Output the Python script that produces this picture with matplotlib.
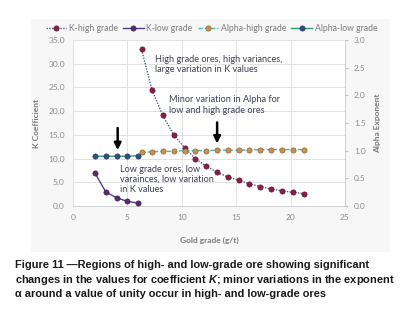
import matplotlib as mpl
mpl.use('Agg')
import matplotlib.pyplot as plt
from matplotlib.patches import Rectangle

plt.rcParams['font.family'] = ['Lato', 'DejaVu Sans']
plt.rcParams['mathtext.fontset'] = 'custom'
plt.rcParams['mathtext.it'] = 'Liberation Sans:italic:bold'
plt.rcParams['mathtext.rm'] = 'Liberation Sans:bold'

# data
grade_low = [2, 3, 4, 5, 6]
k_low = [7.0, 3.0, 1.7, 1.0, 0.6]
alpha_low = [0.90, 0.90, 0.90, 0.90, 0.91]

grade_high = [6.3, 7.25, 8.25, 9.25, 10.25, 11.25, 12.25, 13.25,
              14.25, 15.25, 16.2, 17.2, 18.2, 19.2, 20.2, 21.2]
k_high = [33.0, 24.5, 19.1, 15.0, 12.3, 10.0, 8.4, 7.1,
          6.1, 5.4, 4.7, 4.1, 3.6, 3.2, 2.9, 2.6]
alpha_high = [0.97, 0.98, 0.99, 0.99, 1.0, 1.0, 1.0, 1.01,
              1.01, 1.01, 1.01, 1.02, 1.02, 1.02, 1.02, 1.02]

xticks = [0, 5, 10, 15, 20, 25]
kticks = [0, 5, 10, 15, 20, 25, 30, 35]
aticks = [0, 0.5, 1.0, 1.5, 2.0, 2.5, 3.0]

tick_col = '#8c8c8c'
lab_col = '#7a7a7a'
txt_col = '#3b3f55'

fig = plt.figure(figsize=(4.13, 3.15), dpi=100)
fig.patches.append(Rectangle((0.075, 0.2), 0.87, 0.74, transform=fig.transFigure,
                             facecolor='#f7f7f7', edgecolor='none', zorder=-10))
ax = fig.add_axes([0.177, 0.346, 0.658, 0.527])
ax2 = ax.twinx()

ax.set_xlim(0, 25)
ax.set_ylim(0, 35)
ax2.set_ylim(0, 3)
ax.set_xticks(xticks)
ax.set_yticks(kticks)
ax2.set_yticks(aticks)
ax.set_yticklabels(['%.1f' % v for v in kticks])
ax2.set_yticklabels(['%.1f' % v for v in aticks])
ax.grid(True, color='#e2e2e2', lw=0.7)
ax.set_axisbelow(True)
for a in (ax, ax2):
    for s in a.spines.values():
        s.set_visible(False)
    a.tick_params(labelsize=6, colors=tick_col, length=0, pad=6)
ax2.spines['right'].set_visible(True)
ax2.spines['right'].set_color('#d0d0d0')
ax2.spines['right'].set_linewidth(0.7)
ax2.tick_params(axis='y', length=2.5, color='#c0c0c0', pad=4)
for side in ('bottom', 'left', 'top'):
    ax.spines[side].set_visible(True)
    ax.spines[side].set_color('#d0d0d0' if side == 'bottom' else '#e2e2e2')
    ax.spines[side].set_linewidth(0.7)

ax.set_xlabel('Gold grade (g/t)', fontsize=6, color=lab_col, fontweight='bold', labelpad=11)
ax.set_ylabel('K Coefficient', fontsize=6, color=lab_col, fontweight='bold', labelpad=6)
ax2.set_ylabel('Alpha Exponent', fontsize=6, color=lab_col, fontweight='bold', labelpad=6)

l1, = ax.plot(grade_high, k_high, ls=(0, (1, 1)), color='#4a5a9a', lw=1.0,
              marker='o', ms=3.8, mfc='#8b1e3f', mec='#5a1028', mew=0.4, zorder=5)
l2, = ax.plot(grade_low, k_low, ls='-', color='#4b3f8a', lw=1.0,
              marker='o', ms=3.8, mfc='#5b2a6e', mec='#3a1a4e', mew=0.4, zorder=5)
l3, = ax2.plot(grade_high, alpha_high, ls=(0, (3, 1.5)), color='#3cc0b0', lw=1.0,
               marker='o', ms=3.8, mfc='#c8914f', mec='#7a5a2a', mew=0.4, zorder=4)
l4, = ax2.plot(grade_low, alpha_low, ls='-', color='#2e9e7a', lw=1.0,
               marker='o', ms=3.8, mfc='#2f4f7f', mec='#1f2f4f', mew=0.4, zorder=4)

fig.legend([l1, l2, l3, l4], ['K-high grade', 'K-low grade', 'Alpha-high grade', 'Alpha-low grade'],
           loc='center', bbox_to_anchor=(0.512, 0.911), ncol=4, frameon=False,
           fontsize=6.2, labelcolor='#7a7a7a', handlelength=2.4, handletextpad=0.3,
           columnspacing=0.6, borderaxespad=0)

ax2.annotate('', xy=(4.1, 0.96), xytext=(4.1, 1.46),
             arrowprops=dict(arrowstyle='-|>', color='black', lw=1.8, mutation_scale=10), zorder=6)
ax2.annotate('', xy=(13.25, 1.08), xytext=(13.25, 1.56),
             arrowprops=dict(arrowstyle='-|>', color='black', lw=1.8, mutation_scale=10), zorder=6)

ax.text(7.5, 29.8, 'High grade ores, high variances,\nlarge variation in K values',
        fontsize=6.6, color=txt_col, va='center', ha='left', linespacing=1.2)
ax.text(8.8, 21.3, 'Minor variation in Alpha for\nlow and high grade ores',
        fontsize=6.6, color=txt_col, va='center', ha='left', linespacing=1.2)
ax.text(4.35, 5.6, 'Low grade ores, low\nvarainces, low variation\nin K values',
        fontsize=6.6, color=txt_col, va='center', ha='left', linespacing=1.2)

fig.text(0.036, 0.175,
         'Figure 11 \u2014Regions of high- and low-grade ore showing significant\n'
         'changes in the values for coefficient $K$; minor variations in the exponent\n'
         '\u03b1 around a value of unity occur in high- and low-grade ores',
         fontsize=7.9, fontweight='bold', family=['Liberation Sans', 'DejaVu Sans'],
         color='#1a1a1a', va='top', ha='left', linespacing=1.3)

fig.savefig('out.png', dpi=100)
